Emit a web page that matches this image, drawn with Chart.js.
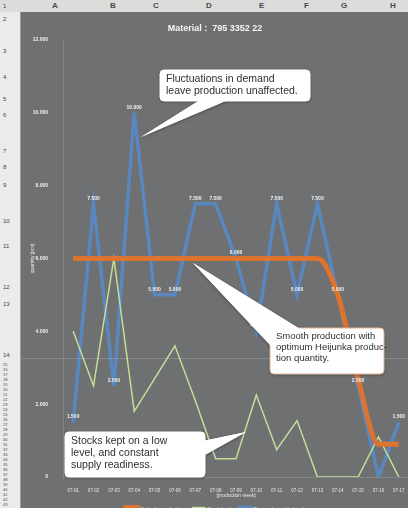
<!DOCTYPE html>
<html>
<head>
<meta charset="utf-8">
<script src="https://cdn.jsdelivr.net/npm/chart.js@4.4.0/dist/chart.umd.min.js"></script>
<style>
html, body { margin: 0; padding: 0; width: 408px; height: 508px; overflow: hidden; background: #e6e6e4; font-family: "Liberation Sans", Arial, sans-serif; }
#colbar { position: absolute; left: 0; top: 0; width: 408px; height: 12px; background: #dcdcda; }
#rowbar { position: absolute; left: 0; top: 12px; width: 20px; height: 496px; background: #ebebe9; border-right: 1px solid #9a9a9a; }
.cl { position: absolute; top: 1px; font-size: 8px; font-weight: bold; color: #4a4a4a; }
.rl { position: absolute; left: 3px; font-size: 6px; color: #444; }
#wrap { position: absolute; left: 21px; top: 12px; width: 389px; height: 510px; background: #6e7072; }
</style>
</head>
<body>
<div id="colbar"></div>
<div id="rowbar"></div>
<div id="wrap"><canvas id="chart"></canvas></div>
<script>
// Heijunka chart: demand vs. levelled production vs. stock

const weeks = ["07-01", "07-02", "07-03", "07-04", "07-05", "07-06", "07-07", "07-08", "07-09",
               "07-10", "07-11", "07-12", "07-13", "07-14", "07-15", "07-16", "07-17"];
const demand     = [1500, 7500, 2500, 10000, 5000, 5000, 7500, 7500, 6000, 4000, 7500, 5000, 7500, 5000, 2500, 0, 1500];
const production = [6000, 6000, 6000, 6000, 6000, 6000, 6000, 6000, 6000, 6000, 6000, 6000, 6000, 5000, 2700, 900, 900];
const stock      = [4000, 2500, 6000, 1800, 2700, 3600, 2100, 500, 500, 2250, 750, 1550, 0, 0, 0, 1100, 0];
const yTicks     = [0, 2000, 4000, 6000, 8000, 10000, 12000];

const colLetters = [["A", 55], ["B", 113], ["C", 156], ["D", 209], ["E", 262], ["F", 307], ["G", 344], ["H", 393]];
const rowNums    = [[1, 3], [2, 16], [3, 48], [4, 74], [5, 96], [6, 112], [7, 148], [8, 164], [9, 182],
                    [10, 218], [11, 243], [12, 284], [13, 301], [14, 352]];

// spreadsheet frame
const colbar = document.getElementById("colbar");
colLetters.forEach(function(c) {
    const d = document.createElement("div");
    d.className = "cl";
    d.style.left = (c[1] - 3) + "px";
    d.textContent = c[0];
    colbar.appendChild(d);
});
const rowbar = document.getElementById("rowbar");
rowNums.forEach(function(r) {
    const d = document.createElement("div");
    d.className = "rl";
    d.style.top = (r[1] - 12) + "px";
    d.textContent = r[0];
    rowbar.appendChild(d);
});
for (let i = 15, y = 362; y < 508; i++, y += 5) {
    const d = document.createElement("div");
    d.className = "rl";
    d.style.fontSize = "4px";
    d.style.top = (y - 12) + "px";
    d.textContent = i;
    rowbar.appendChild(d);
}

function fmt(v) {
    return v.toLocaleString("de-DE");
}

// white value labels on the demand line
const valueLabels = {
    id: "valueLabels",
    afterDatasetsDraw(chart) {
        const ctx = chart.ctx;
        const meta = chart.getDatasetMeta(0);
        ctx.save();
        ctx.fillStyle = "#f2f2f2";
        ctx.font = "bold 5px 'Liberation Sans', Arial";
        ctx.textAlign = "center";
        ctx.textBaseline = "bottom";
        meta.data.forEach(function(pt, i) {
            if (demand[i] === 0) return;
            ctx.fillText(fmt(demand[i]), pt.x, pt.y - 3);
        });
        ctx.restore();
    }
};

// callout boxes (page coords minus wrap offset)
const OX = 21, OY = 12;
const callouts = [
    { box: [160, 70, 150, 31], lines: ["Fluctuations in demand", "leave production unaffected."], size: 10.5,
      tail: [[200, 100], [228, 100], [141, 137]], border: "#ffffff" },
    { box: [270, 328, 114, 46], lines: ["Smooth production with", "optimum Heijunka produc-", "tion quantity."], size: 9.5,
      tail: [[271, 346], [300, 329], [193, 263]], border: "#e9b58e" },
    { box: [65, 432, 140, 45], lines: ["Stocks kept on a low", "level, and constant", "supply readiness."], size: 10.5,
      tail: [[203, 441], [203, 456], [246, 432]], border: "#ffffff" }
];

function roundRect(ctx, x, y, w, h, r) {
    ctx.beginPath();
    ctx.moveTo(x + r, y);
    ctx.arcTo(x + w, y, x + w, y + h, r);
    ctx.arcTo(x + w, y + h, x, y + h, r);
    ctx.arcTo(x, y + h, x, y, r);
    ctx.arcTo(x, y, x + w, y, r);
    ctx.closePath();
}

function tailPath(ctx, t) {
    ctx.beginPath();
    ctx.moveTo(t[0][0] - OX, t[0][1] - OY);
    ctx.lineTo(t[2][0] - OX, t[2][1] - OY);
    ctx.lineTo(t[1][0] - OX, t[1][1] - OY);
    ctx.closePath();
}

const calloutPlugin = {
    id: "callouts",
    afterDraw(chart) {
        const ctx = chart.ctx;
        ctx.save();
        // faint sheet row line seen through the chart
        ctx.strokeStyle = "rgba(255,255,255,0.18)";
        ctx.lineWidth = 1;
        ctx.beginPath();
        ctx.moveTo(0, 358.5 - OY);
        ctx.lineTo(chart.width, 358.5 - OY);
        ctx.stroke();

        callouts.forEach(function(c) {
            const x = c.box[0] - OX, y = c.box[1] - OY, w = c.box[2], h = c.box[3];
            ctx.shadowColor = "rgba(0,0,0,0.35)";
            ctx.shadowBlur = 3;
            ctx.shadowOffsetY = 1;
            ctx.fillStyle = "#ffffff";
            tailPath(ctx, c.tail);
            ctx.fill();
            roundRect(ctx, x, y, w, h, 4);
            ctx.fill();
            ctx.shadowColor = "transparent";
            ctx.strokeStyle = c.border;
            ctx.lineWidth = 1;
            ctx.stroke();
            ctx.fillStyle = "#ffffff";
            tailPath(ctx, c.tail);
            ctx.fill();
            ctx.fillStyle = "#2e2e2e";
            ctx.font = c.size + "px 'Liberation Sans', Arial";
            ctx.textAlign = "left";
            ctx.textBaseline = "top";
            c.lines.forEach(function(t, i) {
                ctx.fillText(t, x + 6, y + 4 + i * (c.size * 1.12));
            });
        });
        ctx.restore();
    }
};

new Chart(document.getElementById("chart"), {
    type: "line",
    data: {
        labels: weeks,
        datasets: [
            {
                label: "Demand quantity (pcs)",
                data: demand,
                borderColor: "rgba(86,138,198,0.92)",
                backgroundColor: "rgba(86,138,198,0.92)",
                borderWidth: 3.5,
                pointRadius: 0,
                tension: 0,
                order: 2,
            },
            {
                label: "Heijunka production",
                data: production,
                borderColor: "#dc742f",
                backgroundColor: "#dc742f",
                borderWidth: 5,
                pointRadius: 0,
                cubicInterpolationMode: "monotone",
                order: 0,
            },
            {
                label: "Stock level",
                data: stock,
                borderColor: "#c4de98",
                backgroundColor: "#c4de98",
                borderWidth: 1.5,
                pointRadius: 0,
                tension: 0,
                order: 1,
            },
        ],
    },
    options: {
        responsive: true,
        maintainAspectRatio: false,
        animation: false,
        layout: { padding: { left: 0, right: 1, top: 0, bottom: 0 } },
        plugins: {
            title: {
                display: true,
                text: "Material :  795 3352 22",
                color: "#f4f4f4",
                font: { size: 9, weight: "bold", family: "'Liberation Sans', Arial" },
                padding: { top: 11, bottom: 6 },
            },
            legend: {
                position: "bottom",
                labels: { color: "#f0f0f0", boxWidth: 12, boxHeight: 4, padding: 8, font: { size: 5 } },
            },
            tooltip: { enabled: false },
        },
        scales: {
            x: {
                offset: true,
                grid: { display: false },
                border: { color: "rgba(255,255,255,0.15)" },
                ticks: { color: "#e8e8e8", font: { size: 4.5 }, maxRotation: 0, autoSkip: false, padding: 3 },
                title: { display: true, text: "[production week]", color: "#e8e8e8", font: { size: 5 }, padding: { top: 3, bottom: 0 } },
                afterFit: function(s) { s.height = 22; },
            },
            y: {
                min: 0,
                max: 12000,
                grid: { display: false },
                border: { color: "rgba(255,255,255,0.15)" },
                afterBuildTicks: function(s) { s.ticks = yTicks.map(function(v) { return { value: v }; }); },
                ticks: { color: "#f0f0f0", font: { size: 5, weight: "bold" }, padding: 7,
                         callback: function(v) { return fmt(v); } },
                title: { display: true, text: "quantity [pcs]", color: "#e8e8e8", font: { size: 5 }, padding: { top: 9, bottom: 0 } },
                afterFit: function(s) { s.width = 42; },
            },
        },
    },
    plugins: [valueLabels, calloutPlugin],
});
</script>
</body>
</html>
